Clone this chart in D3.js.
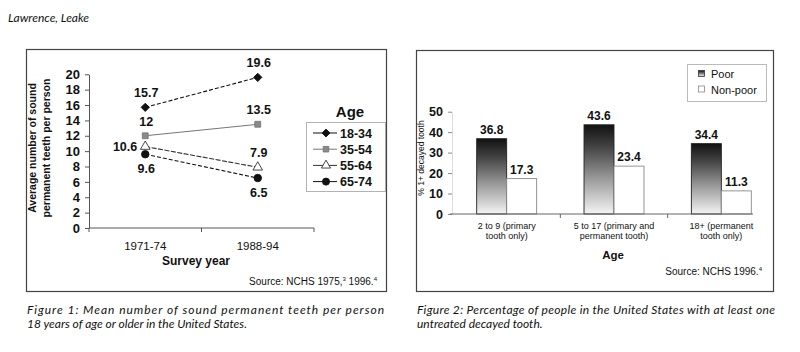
<!DOCTYPE html>
<html>
<head>
<meta charset="utf-8">
<script src="https://cdn.jsdelivr.net/npm/d3@7"></script>
<style>
  body { margin: 0; background: #fff; }
  text { font-family: "Liberation Sans", Arial, sans-serif; fill: #111; }
  .serif-it { font-family: Lato, "Open Sans", sans-serif; font-style: italic; }
</style>
</head>
<body>
<div id="chart"></div>
<script>
// Figure 1 data
var years = ["1971-74", "1988-94"];
var ageGroups = ["18-34", "35-54", "55-64", "65-74"];
var teeth1834 = [15.7, 19.6];
var teeth3554 = [12, 13.5];
var teeth5564 = [10.6, 7.9];
var teeth6574 = [9.6, 6.5];
var yTicksL = [0, 2, 4, 6, 8, 10, 12, 14, 16, 18, 20];

// Figure 2 data
var ageCats = ["2 to 9 (primary|tooth only)", "5 to 17 (primary and|permanent tooth)", "18+ (permanent|tooth only)"];
var incomeGroups = ["Poor", "Non-poor"];
var poorPct = [36.8, 43.6, 34.4];
var nonPoorPct = [17.3, 23.4, 11.3];
var yTicksR = [0, 10, 20, 30, 40, 50];

var svg = d3.select("#chart").append("svg")
  .attr("width", 800)
  .attr("height", 352);

// gradient for the "Poor" bars
var defs = svg.append("defs");
var grad = defs.append("linearGradient")
  .attr("id", "poorGrad")
  .attr("x1", 0).attr("y1", 0).attr("x2", 0).attr("y2", 1);
grad.append("stop").attr("offset", "0%").attr("stop-color", "#111");
grad.append("stop").attr("offset", "25%").attr("stop-color", "#444");
grad.append("stop").attr("offset", "60%").attr("stop-color", "#999");
grad.append("stop").attr("offset", "100%").attr("stop-color", "#f4f4f4");

// header
svg.append("text")
  .attr("class", "serif-it")
  .attr("x", 8).attr("y", 22)
  .attr("font-size", 12)
  .text("Lawrence, Leake");

// ---------------- Figure 1 ----------------
svg.append("rect")
  .attr("x", 26.5).attr("y", 49.5)
  .attr("width", 360).attr("height", 242)
  .attr("fill", "none").attr("stroke", "#444").attr("stroke-width", 1.2);

var yL = d3.scaleLinear().domain([0, 20]).range([228, 74.3]);
var xL = d3.scaleBand().domain(years).range([89, 314]);

var left = svg.append("g");

left.append("g")
  .attr("transform", "translate(89,0)")
  .call(d3.axisLeft(yL).tickValues(yTicksL).tickSize(4).tickSizeOuter(0))
  .call(g => g.select(".domain").attr("stroke", "#555"))
  .call(g => g.selectAll(".tick line").attr("stroke", "#555"))
  .call(g => g.selectAll(".tick text")
    .attr("font-size", 13).attr("font-weight", "bold")
    .attr("font-family", "Liberation Sans, Arial, sans-serif").attr("fill", "#111").attr("x", -9));

// x axis line with ticks at the band edges
left.append("line")
  .attr("x1", xL.range()[0]).attr("x2", xL.range()[1])
  .attr("y1", yL(0)).attr("y2", yL(0))
  .attr("stroke", "#555");
var edges = years.map(d => xL(d)).concat([xL.range()[1]]);
left.selectAll(".xedge").data(edges).enter().append("line")
  .attr("x1", d => d).attr("x2", d => d)
  .attr("y1", yL(0)).attr("y2", yL(0) + 4)
  .attr("stroke", "#555");
left.selectAll(".xlab").data(years).enter().append("text")
  .attr("x", d => xL(d) + xL.bandwidth() / 2)
  .attr("y", 250)
  .attr("text-anchor", "middle")
  .attr("font-size", 11.5)
  .text(d => d);

left.append("text")
  .attr("x", 196).attr("y", 265)
  .attr("text-anchor", "middle")
  .attr("font-size", 12).attr("font-weight", "bold")
  .text("Survey year");

var yTitle = left.append("text")
  .attr("transform", "translate(36,148) rotate(-90)")
  .attr("text-anchor", "middle")
  .attr("font-size", 10.5).attr("font-weight", "bold");
yTitle.append("tspan").attr("x", 0).attr("dy", 0).text("Average number of sound");
yTitle.append("tspan").attr("x", 0).attr("dy", 14).text("permanent teeth per person");

// marker styles: the diamond is a square turned 45 degrees
var series = [
  { name: ageGroups[0], values: teeth1834, marker: d3.symbolSquare, rot: 45, size: 34, fill: "#111", stroke: "#111", dash: "4,2", label: ["above", "above"] },
  { name: ageGroups[1], values: teeth3554, marker: d3.symbolSquare, rot: 0, size: 34, fill: "#8a8a8a", stroke: "#777", dash: null, label: ["above", "above"] },
  { name: ageGroups[2], values: teeth5564, marker: d3.symbolTriangle, rot: 0, size: 40, fill: "#fff", stroke: "#333", dash: "5,1.5", label: ["left", "above"] },
  { name: ageGroups[3], values: teeth6574, marker: d3.symbolCircle, rot: 0, size: 44, fill: "#111", stroke: "#111", dash: "4,2", label: ["below", "below"] }
];

var cx = d => xL(d) + xL.bandwidth() / 2;
var line = d3.line().x((v, i) => cx(years[i])).y(v => yL(v));

series.forEach(function(s) {
  left.append("path")
    .attr("d", line(s.values))
    .attr("fill", "none")
    .attr("stroke", s.stroke)
    .attr("stroke-width", 1.1)
    .attr("stroke-dasharray", s.dash);

  left.selectAll(null).data(s.values).enter().append("path")
    .attr("d", d3.symbol().type(s.marker).size(s.size))
    .attr("transform", (v, i) => `translate(${cx(years[i])},${yL(v)}) rotate(${s.rot})`)
    .attr("fill", s.fill)
    .attr("stroke", s.stroke)
    .attr("stroke-width", 0.9);

  left.selectAll(null).data(s.values).enter().append("text")
    .attr("x", (v, i) => s.label[i] === "left" ? cx(years[i]) - 8 : cx(years[i]) + 1)
    .attr("y", (v, i) => s.label[i] === "above" ? yL(v) - 10 : s.label[i] === "below" ? yL(v) + 19 : yL(v) + 4)
    .attr("text-anchor", (v, i) => s.label[i] === "left" ? "end" : "middle")
    .attr("font-size", 12.5).attr("font-weight", "bold")
    .text(v => v);
});

// legend for figure 1
var legL = left.append("g");
legL.append("text")
  .attr("x", 350).attr("y", 117)
  .attr("text-anchor", "middle")
  .attr("font-size", 15).attr("font-weight", "bold")
  .text("Age");
legL.append("rect")
  .attr("x", 306.5).attr("y", 122.5)
  .attr("width", 79).attr("height", 69)
  .attr("fill", "none").attr("stroke", "#666").attr("stroke-dasharray", "1,1");
series.forEach(function(s, i) {
  var y = 133 + i * 16.2;
  legL.append("line")
    .attr("x1", 313).attr("x2", 337).attr("y1", y).attr("y2", y)
    .attr("stroke", s.stroke).attr("stroke-width", 1);
  legL.append("path")
    .attr("d", d3.symbol().type(s.marker).size(s.size * 0.9))
    .attr("transform", `translate(326,${y}) rotate(${s.rot})`)
    .attr("fill", s.fill).attr("stroke", s.stroke).attr("stroke-width", 0.9);
  legL.append("text")
    .attr("x", 340).attr("y", y + 4.5)
    .attr("font-size", 12.5).attr("font-weight", "bold")
    .text(s.name);
});

left.append("text")
  .attr("x", 377).attr("y", 285)
  .attr("text-anchor", "end")
  .attr("font-size", 10)
  .html('Source: NCHS 1975,<tspan font-size="6" dy="-4">3</tspan><tspan dy="4"> 1996.</tspan><tspan font-size="6" dy="-4">4</tspan>');

// ---------------- Figure 2 ----------------
svg.append("rect")
  .attr("x", 416.5).attr("y", 50.5)
  .attr("width", 357).attr("height", 241)
  .attr("fill", "none").attr("stroke", "#444").attr("stroke-width", 1.2);

var right = svg.append("g");
var yR = d3.scaleLinear().domain([0, 50]).range([214, 111.7]);
var xR = d3.scaleBand().domain(ageCats).range([453, 775]);
var xSub = d3.scaleBand().domain(incomeGroups).range([0, xR.bandwidth()]).paddingOuter(0.79);

defs.append("clipPath").attr("id", "plotClip")
  .append("rect").attr("x", 450).attr("y", 60).attr("width", 303).attr("height", 160);

right.append("g")
  .attr("transform", "translate(452,0)")
  .call(d3.axisLeft(yR).tickValues(yTicksR).tickSize(4).tickSizeOuter(0))
  .call(g => g.select(".domain").attr("stroke", "#bbb").attr("stroke-dasharray", "1,1"))
  .call(g => g.selectAll(".tick line").attr("stroke", "#888"))
  .call(g => g.selectAll(".tick text")
    .attr("font-size", 12.5).attr("font-weight", "bold")
    .attr("font-family", "Liberation Sans, Arial, sans-serif").attr("fill", "#111").attr("x", -9));

var rows = ageCats.map((c, i) => ({ cat: c, vals: [poorPct[i], nonPoorPct[i]] }));

var plot = right.append("g").attr("clip-path", "url(#plotClip)");
rows.forEach(function(r) {
  plot.selectAll(null).data(r.vals).enter().append("rect")
    .attr("x", (v, j) => xR(r.cat) + xSub(incomeGroups[j]))
    .attr("y", v => yR(v))
    .attr("width", xSub.bandwidth())
    .attr("height", v => yR(0) - yR(v))
    .attr("fill", (v, j) => j === 0 ? "url(#poorGrad)" : "#fff")
    .attr("stroke", (v, j) => j === 0 ? "#222" : "#888")
    .attr("stroke-width", 0.9);

  right.selectAll(null).data(r.vals).enter().append("text")
    .attr("x", (v, j) => xR(r.cat) + xSub(incomeGroups[j]) + xSub.bandwidth() / 2)
    .attr("y", v => yR(v) - 5)
    .attr("text-anchor", "middle")
    .attr("font-size", 12).attr("font-weight", "bold")
    .text(v => v);
});

// x axis
right.append("line")
  .attr("x1", 450).attr("x2", 753)
  .attr("y1", yR(0)).attr("y2", yR(0))
  .attr("stroke", "#666");
right.selectAll(".redge").data(ageCats.slice(1)).enter().append("line")
  .attr("x1", d => xR(d)).attr("x2", d => xR(d))
  .attr("y1", yR(0)).attr("y2", yR(0) + 4)
  .attr("stroke", "#666");
right.selectAll(".rlab").data(ageCats).enter().append("text")
  .attr("text-anchor", "middle")
  .attr("font-size", 9)
  .each(function(d) {
    var t = d3.select(this);
    d.split("|").forEach(function(part, k) {
      t.append("tspan")
        .attr("x", xR(d) + xR.bandwidth() / 2)
        .attr("y", 229 + k * 9.5)
        .text(part);
    });
  });

right.append("text")
  .attr("x", 613).attr("y", 259)
  .attr("text-anchor", "middle")
  .attr("font-size", 11.5).attr("font-weight", "bold")
  .text("Age");

right.append("text")
  .attr("transform", "translate(424,158) rotate(-90)")
  .attr("text-anchor", "middle")
  .attr("font-size", 8.5)
  .text("% 1+ decayed tooth");

right.append("text")
  .attr("x", 762).attr("y", 275)
  .attr("text-anchor", "end")
  .attr("font-size", 10)
  .html('Source: NCHS 1996.<tspan font-size="6" dy="-4">4</tspan>');

// legend for figure 2
var legR = right.append("g");
legR.append("rect")
  .attr("x", 687.5).attr("y", 64.5)
  .attr("width", 79).attr("height", 37)
  .attr("fill", "#fff").attr("stroke", "#777").attr("stroke-dasharray", "1,1");
incomeGroups.forEach(function(name, i) {
  var y = 74 + i * 15.5;
  legR.append("rect")
    .attr("x", 698.5).attr("y", y - 3.5)
    .attr("width", 6).attr("height", 6)
    .attr("fill", i === 0 ? "url(#poorGrad)" : "#fff")
    .attr("stroke", i === 0 ? "#333" : "#888").attr("stroke-width", 0.8);
  legR.append("text")
    .attr("x", 711).attr("y", y + 4)
    .attr("font-size", 11)
    .text(name);
});

// ---------------- captions ----------------
function caption(x, lines, width) {
  lines.forEach(function(l, i) {
    var t = svg.append("text")
      .attr("class", "serif-it")
      .attr("x", x).attr("y", 314 + i * 13.5)
      .attr("font-size", 12)
      .text(l);
    if (i === 0) t.attr("textLength", width).attr("lengthAdjust", "spacing");
  });
}
caption(27, ["Figure 1: Mean number of sound permanent teeth per person", "18 years of age or older in the United States."], 357);
caption(417, ["Figure 2: Percentage of people in the United States with at least one", "untreated decayed tooth."], 358);
</script>
</body>
</html>
